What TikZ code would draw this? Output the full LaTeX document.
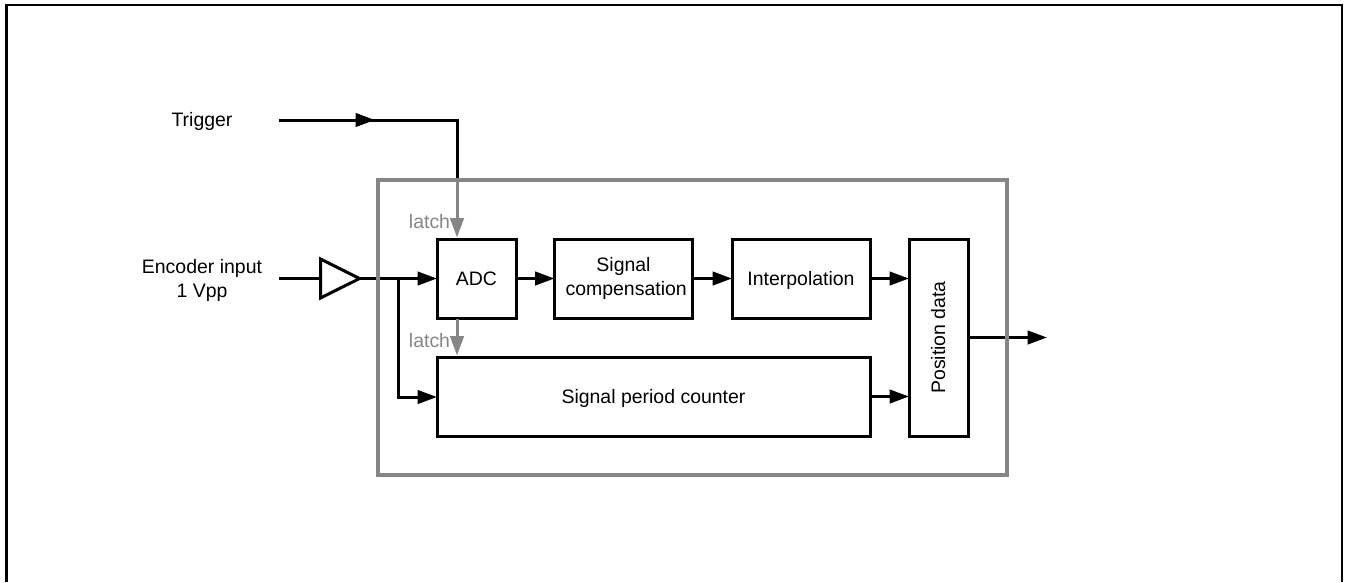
\documentclass[tikz,border=0pt]{standalone}
\usepackage{fontspec}
\setmainfont{Liberation Sans}
\usetikzlibrary{arrows.meta,shapes.geometric}
\definecolor{fg}{RGB}{0,0,0}
\definecolor{gr}{RGB}{134,134,134}
\tikzset{
  x=0.75pt,y=-0.75pt,
  box/.style n args={2}{draw=fg,line width=2.25pt,fill=white,inner sep=0pt,outer sep=0pt,minimum width=#1*0.75pt,minimum height=#2*0.75pt},
  blk/.style 2 args={box={#1}{#2},align=center,font=\fontsize{14.6}{18.5}\selectfont},
  oneline/.style={text height=12pt,text depth=2.2pt},
  lbl/.style={align=center,inner sep=0pt,font=\fontsize{14.6}{18}\selectfont},
  glbl/.style={lbl,text=gr},
  wire/.style={draw=fg,line width=2.25pt,line join=miter},
  gwire/.style={draw=gr,line width=2.25pt,shorten <=1.1pt,shorten >=1.1pt},
  arr/.style={wire,-{Triangle[length=14.5pt,width=10pt,fg]}},
  garr/.style={gwire,-{Triangle[length=14.5pt,width=10pt,gr]}},
}
\begin{document}
\begin{tikzpicture}
\useasboundingbox (0,0) rectangle (1352,582);
% outer page frame (open at the bottom)
\draw[draw=fg,line width=1.9pt] (6.5,582) -- (6.5,5) -- (1342,5) -- (1342,582);
% blocks
\node[blk={79}{79},oneline] (adc) at (476.5,278.5) {ADC};
\node[blk={138}{79}] (comp) at (623.5,278.5) {Signal\\\hspace*{4pt}compensation};
\node[blk={138}{79},oneline] (interp) at (801,278.5) {Interpolation};
\node[blk={433}{79},oneline] (cnt) at (653.5,396.5) {Signal period counter};
\node[box={59}{197}] (pos) at (938.5,337.5) {};
\node[lbl,oneline,rotate=90] (postext) at (pos.center) {Position data};
\node[draw=fg,line width=2.25pt,fill=white,isosceles triangle,isosceles triangle apex angle=53,minimum height=26.75pt,minimum width=29.25pt,inner sep=0pt,anchor=west] (amp) at (319,278.5) {};
% labels
\node[lbl,oneline] (trig) at (202,120) {Trigger};
\node[lbl] (enc) at (202,280) {Encoder input\\1 Vpp};
\node[glbl] (l1) at (429.5,222) {latch};
\node[glbl] (l2) at (429.5,340.5) {latch};
% free ends and bends
\coordinate (tstart) at (279,120);
\coordinate (tmid) at (375,120);
\coordinate (tbend) at (457,120);
\coordinate (ttop) at (457,180);
\coordinate (istart) at (279,278.5);
\coordinate (jun) at (398,278.5);
\coordinate (jdown) at (398,397);
\coordinate (out) at (1047,337.5);
% connectors
\draw[wire] (tstart) -- (tbend) -- (ttop);
\draw[arr] (tstart) -- (tmid);
\draw[garr] (ttop) -- (adc.north -| ttop);
\draw[wire] (istart) -- (amp.west);
\draw[arr] ([xshift=-2.5pt]amp.east) -- (adc.west);
\draw[arr] (jun) -- (jdown) -- (cnt.west |- jdown);
\draw[arr] (adc.east) -- (comp.west);
\draw[arr] (comp.east) -- (interp.west);
\draw[arr] (interp.east) -- (pos.west |- interp.east);
\draw[arr] (cnt.east) -- (pos.west |- cnt.east);
\draw[arr] (pos.east) -- (out);
\draw[garr] (adc.south -| ttop) -- (cnt.north -| ttop);
% outer gray frame
\node[draw=gr,line width=3pt,minimum width=471.75pt,minimum height=221.25pt,inner sep=0pt] (frame) at (692.5,327.5) {};
\end{tikzpicture}
\end{document}
